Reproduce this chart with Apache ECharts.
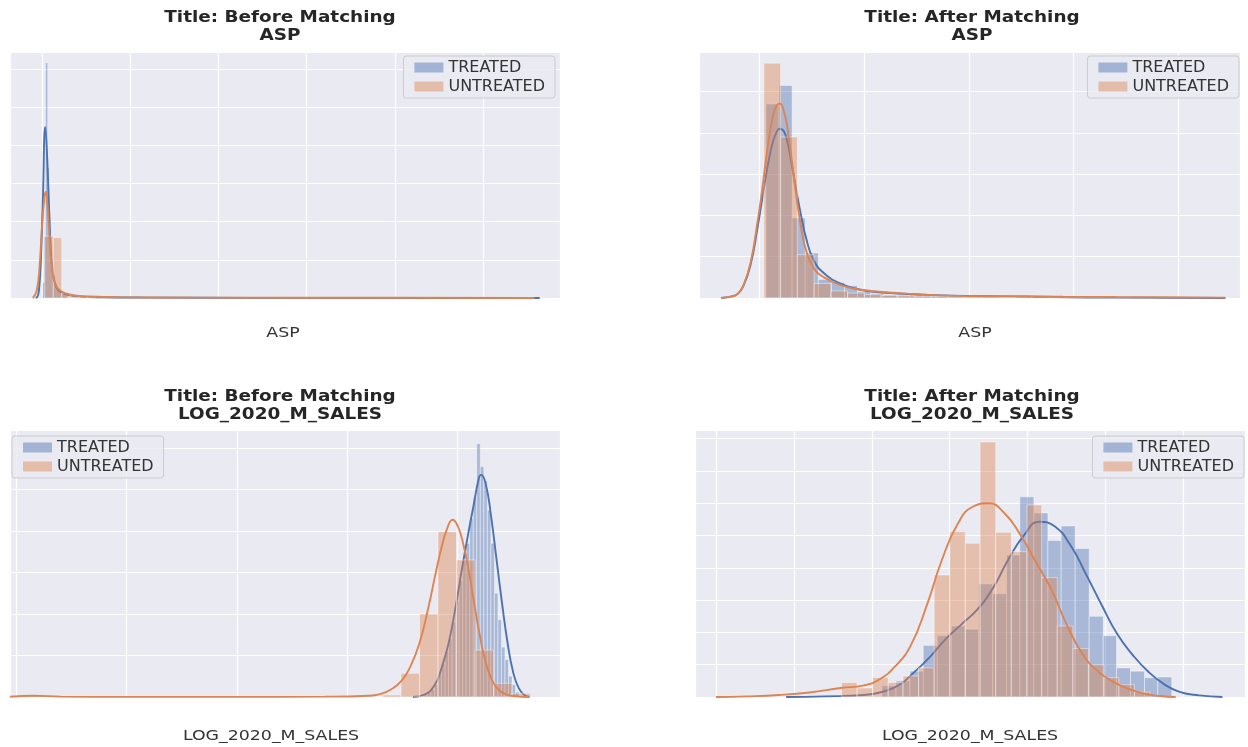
<!DOCTYPE html>
<html><head><meta charset="utf-8">
<script src="https://cdn.jsdelivr.net/npm/echarts@6/dist/echarts.min.js"></script>
<style>html,body{margin:0;padding:0;background:#fff}#c{width:1248px;height:747px}</style>
</head><body><div id="c"></div>
<script>
// ---------- DATA ----------
const seriesNames = ['TREATED', 'UNTREATED'];
const panelTitles = ['Title: Before Matching\nASP', 'Title: After Matching\nASP',
  'Title: Before Matching\nLOG_2020_M_SALES', 'Title: After Matching\nLOG_2020_M_SALES'];
const axisNames = ['ASP', 'ASP', 'LOG_2020_M_SALES', 'LOG_2020_M_SALES'];

// Panel 1: ASP before matching
const aspBeforeTreatedEdges = [0.6, 1.45, 2.3, 3.15, 4.0, 4.85, 5.7, 6.55, 7.4, 8.25, 9.1, 9.95, 10.8, 11.65, 12.5, 13.35, 14.2];
const aspBeforeTreatedHeights = [0.4, 1.6, 6.15, 3.4, 2.1, 1.2, 0.75, 0.5, 0.38, 0.3, 0.24, 0.2, 0.16, 0.13, 0.1, 0.08];
const aspBeforeUntreatedEdges = [1.7, 6.5, 11.3, 16.1, 20.9, 25.7, 30.5];
const aspBeforeUntreatedHeights = [1.62, 1.58, 0.12, 0.06, 0.04, 0.03];
const aspBeforeTreatedKde = [[-3.4,0],[-2.27,0.05],[-1.42,0.3],[-0.57,0.9],[0.57,2.5],[1.98,4.48],[3.12,3.6],[4.25,2.2],[5.1,1.3],[6.24,0.7],[7.37,0.4],[9.07,0.22],[11.34,0.14],[14.7,0.08],[21.5,0.04],[32.9,0.02],[61.2,0.01],[118,0.004],[282,0]];
const aspBeforeUntreatedKde = [[-5.1,0],[-2.83,0.2],[-1.13,0.9],[0,1.8],[1.42,2.6],[2.27,2.78],[3.12,2.5],[3.97,1.9],[5.1,1.1],[6.24,0.6],[7.94,0.33],[10.2,0.2],[13.6,0.12],[18.7,0.07],[27.2,0.04],[44.2,0.02],[89.6,0.01],[203,0.005],[279,0]];

// Panel 2: ASP after matching
const aspAfterTreatedEdges = [1.2, 3.7, 6.2, 8.7, 11.2, 13.7, 16.2, 18.7, 21.2, 23.7, 26.2, 28.7, 31.2, 33.7, 36.2, 38.7, 41.2, 43.7, 46.2];
const aspAfterTreatedHeights = [4.7, 5.15, 1.94, 1.09, 0.45, 0.38, 0.3, 0.16, 0.11, 0.08, 0.07, 0.08, 0.07, 0.05, 0.05, 0.04, 0.04, 0.03];
const aspAfterUntreatedEdges = [0.8, 4.0, 7.2, 10.4, 13.6, 16.8, 20.0, 23.2, 26.4, 29.6, 32.8, 36.0, 39.2, 42.4, 45.6, 48.8, 52.0, 55.2, 58.4, 61.6, 64.8, 68.0, 71.2, 74.4, 77.6, 80.8, 84.0, 87.2];
const aspAfterUntreatedHeights = [5.69, 3.9, 1.05, 0.35, 0.17, 0.12, 0.08, 0.06, 0.05, 0.04, 0.04, 0.03, 0.03, 0.03, 0.02, 0.03, 0.04, 0.03, 0.02, 0.02, 0.02, 0.02, 0.01, 0.01, 0.01, 0.01, 0.01];
const aspAfterTreatedKde = [[-7.4,0],[-5.3,0.04],[-4.2,0.1],[-3.2,0.27],[-1.75,0.8],[-0.35,1.75],[0.35,2.3],[1.05,2.85],[1.75,3.35],[2.46,3.75],[3.16,4.0],[3.86,4.1],[4.56,4.05],[5.26,3.8],[5.96,3.35],[6.66,2.85],[7.37,2.35],[8.07,1.9],[8.77,1.5],[10.2,0.95],[12.3,0.6],[15.8,0.33],[19.3,0.2],[22.8,0.14],[26.3,0.11],[29.8,0.09],[33.3,0.07],[40,0.05],[47,0.04],[55,0.02],[70,0.01],[89,0]];
const aspAfterUntreatedKde = [[-7.4,0],[-5.3,0.04],[-4.2,0.1],[-3.2,0.28],[-1.75,0.85],[-0.35,1.9],[0.35,2.5],[1.05,3.2],[1.75,3.85],[2.46,4.35],[3.16,4.65],[3.86,4.71],[4.56,4.55],[5.26,4.15],[5.96,3.5],[6.66,2.8],[7.37,2.15],[8.07,1.6],[8.77,1.2],[10.2,0.75],[12.3,0.5],[15.8,0.3],[19.3,0.2],[26.3,0.12],[33.3,0.07],[44,0.04],[51,0.045],[58,0.03],[68,0.025],[89,0.01]];

// Panel 3: LOG_2020_M_SALES before matching
const salesBeforeTreatedEdges = [13.5, 13.66, 13.82, 13.98, 14.14, 14.3, 14.46, 14.62, 14.78, 14.94, 15.1, 15.26, 15.42, 15.58, 15.74, 15.9, 16.06, 16.22, 16.38, 16.54, 16.7, 16.86, 17.02, 17.18, 17.34, 17.5, 17.66, 17.82];
const salesBeforeTreatedHeights = [0.05, 0.1, 0.18, 0.3, 0.55, 0.8, 1.1, 1.4, 1.8, 2.3, 2.8, 3.3, 3.7, 4.3, 4.8, 6.1, 5.55, 5.2, 4.5, 3.7, 2.5, 1.86, 1.2, 0.9, 0.5, 0.3, 0.12];
const salesBeforeUntreatedEdges = [-4.4, -3.56, 11.62, 12.46, 13.3, 14.14, 14.98, 15.82, 16.66, 17.5, 18.34];
const salesBeforeUntreatedHeights = [0.03, 0, 0.05, 0.57, 2.0, 3.98, 3.3, 1.13, 0.33, 0.09];
const salesBeforeTreatedKde = [[13.0,0],[13.5,0.05],[14.0,0.3],[14.3,0.7],[14.6,1.25],[14.9,2.05],[15.2,3.0],[15.5,3.9],[15.75,4.6],[16.0,5.28],[16.1,5.35],[16.3,5.15],[16.55,4.35],[16.8,3.3],[17.05,2.25],[17.3,1.3],[17.55,0.6],[17.8,0.22],[18.05,0.05],[18.3,0]];
const salesBeforeUntreatedKde = [[-5.3,0.005],[-4.2,0.03],[-3.0,0.01],[0,0.003],[5,0.003],[9,0.008],[11.0,0.03],[11.5,0.07],[12.0,0.18],[12.5,0.4],[12.9,0.75],[13.3,1.3],[13.7,2.15],[14.0,2.9],[14.3,3.6],[14.55,4.05],[14.8,4.27],[15.05,4.1],[15.3,3.65],[15.55,3.0],[15.8,2.2],[16.05,1.45],[16.3,0.85],[16.6,0.4],[16.9,0.17],[17.3,0.05],[17.8,0.01],[18.2,0]];

// Panel 4: LOG_2020_M_SALES after matching
const salesAfterTreatedEdges = [12.13, 12.31, 12.49, 12.66, 12.84, 13.02, 13.2, 13.37, 13.55, 13.73, 13.9, 14.08, 14.26, 14.43, 14.61, 14.79, 14.97, 15.14, 15.32, 15.5, 15.67, 15.85];
const salesAfterTreatedHeights = [0.35, 0.5, 0.8, 1.6, 1.9, 2.2, 2.1, 3.5, 3.2, 4.4, 6.2, 5.7, 4.85, 5.3, 4.6, 2.5, 1.9, 0.9, 0.8, 0.6, 0.62];
const salesAfterUntreatedEdges = [11.61, 11.81, 12.01, 12.21, 12.4, 12.6, 12.8, 13.0, 13.2, 13.39, 13.59, 13.79, 13.99, 14.18, 14.38, 14.58, 14.78, 14.98, 15.17, 15.37, 15.57];
const salesAfterUntreatedHeights = [0.45, 0.28, 0.6, 0.45, 0.65, 0.9, 3.78, 5.12, 4.76, 7.9, 5.1, 4.5, 5.95, 3.7, 2.2, 1.5, 1.0, 0.6, 0.38, 0.15];
const salesAfterTreatedKde = [[10.9,0],[11.4,0.02],[11.9,0.06],[12.15,0.17],[12.35,0.37],[12.55,0.78],[12.75,1.25],[12.95,1.8],[13.15,2.25],[13.35,2.7],[13.55,3.35],[13.75,4.25],[13.95,5.0],[14.15,5.43],[14.35,5.28],[14.55,4.7],[14.75,3.8],[14.95,2.85],[15.15,1.95],[15.35,1.3],[15.55,0.78],[15.75,0.4],[15.95,0.16],[16.2,0.05],[16.5,0]];
const salesAfterUntreatedKde = [[10.0,0],[10.4,0.02],[10.8,0.06],[11.2,0.14],[11.6,0.28],[11.9,0.36],[12.1,0.55],[12.3,0.95],[12.5,1.6],[12.7,2.8],[12.9,4.25],[13.1,5.35],[13.3,5.9],[13.5,6.0],[13.7,5.7],[13.9,5.05],[14.1,4.2],[14.3,3.35],[14.5,2.25],[14.7,1.35],[14.9,0.8],[15.1,0.47],[15.3,0.25],[15.5,0.1],[15.7,0.03],[15.9,0]];

// axis extents (value units)
const xExtents = [[-18, 293.5], [-11.6, 91.8], [-5.3, 19.68], [9.73, 16.79]];
const yMax = [6.44, 5.96, 6.43, 8.27];

// ---------- CHART ----------
const BLUE = '#4C72B0', ORANGE = '#DD8452';
const FONT = 'DejaVu Sans';
const grids = [
  {left: 10, top: 52, width: 550, height: 246},
  {left: 699, top: 52, width: 541, height: 246},
  {left: 10, top: 430, width: 550, height: 267},
  {left: 695, top: 430, width: 550, height: 267}
];
const xSplit = [5, 5, 5, 7];
const ySplit = [6, 5, 6, 8];

function hist(name, color, idx, edges, heights, edgeW, z) {
  return {
    type: 'custom', name: name, xAxisIndex: idx, yAxisIndex: idx, z: z,
    itemStyle: {color: color}, encode: {x: [0, 1], y: 2}, silent: true, clip: true,
    data: heights.map((h, i) => [edges[i], edges[i + 1], h]),
    renderItem: function (params, api) {
      const a = api.coord([api.value(0), api.value(2)]);
      const b = api.coord([api.value(1), 0]);
      return {type: 'rect', shape: {x: a[0], y: a[1], width: b[0] - a[0], height: b[1] - a[1]},
        style: {fill: color, stroke: edgeW ? '#ffffff' : null, lineWidth: edgeW, opacity: 0.42}};
    }
  };
}
function kde(name, color, idx, pts, z) {
  return {type: 'line', name: name, xAxisIndex: idx, yAxisIndex: idx, z: z, data: pts,
    showSymbol: false, symbol: 'none', smooth: 0.5, silent: true,
    lineStyle: {color: color, width: 1.9}, itemStyle: {color: color}};
}

const panels = [
  [aspBeforeTreatedEdges, aspBeforeTreatedHeights, aspBeforeUntreatedEdges, aspBeforeUntreatedHeights, aspBeforeTreatedKde, aspBeforeUntreatedKde, 0],
  [aspAfterTreatedEdges, aspAfterTreatedHeights, aspAfterUntreatedEdges, aspAfterUntreatedHeights, aspAfterTreatedKde, aspAfterUntreatedKde, 1],
  [salesBeforeTreatedEdges, salesBeforeTreatedHeights, salesBeforeUntreatedEdges, salesBeforeUntreatedHeights, salesBeforeTreatedKde, salesBeforeUntreatedKde, 1],
  [salesAfterTreatedEdges, salesAfterTreatedHeights, salesAfterUntreatedEdges, salesAfterUntreatedHeights, salesAfterTreatedKde, salesAfterUntreatedKde, 1]
];
const series = [];
panels.forEach((p, i) => {
  series.push(hist(seriesNames[0], BLUE, i, p[0], p[1], p[6], 2));
  series.push(kde(seriesNames[0] + ' KDE', BLUE, i, p[4], 3));
  series.push(hist(seriesNames[1], ORANGE, i, p[2], p[3], 1, 4));
  series.push(kde(seriesNames[1] + ' KDE', ORANGE, i, p[5], 5));
});

const titlePos = [[280, 9], [972, 9], [280, 388], [972, 388]];
const namePos = [[283, 326], [975, 326], [271, 729], [970, 729]];
const legendPos = [
  {right: 693, top: 56}, {right: 9, top: 56}, {left: 12, top: 436}, {right: 4, top: 436}
];

const graphics = [];
panelTitles.forEach((t, i) => graphics.push({
  type: 'text', x: titlePos[i][0], y: titlePos[i][1], scaleX: 1.15, silent: true,
  style: {text: t, align: 'center', verticalAlign: 'top', fontFamily: FONT, fontSize: 16,
    fontWeight: 'bold', lineHeight: 18, fill: '#262626'}
}));
axisNames.forEach((t, i) => graphics.push({
  type: 'text', x: namePos[i][0], y: namePos[i][1], scaleX: 1.24, silent: true,
  style: {text: t, align: 'center', verticalAlign: 'top', fontFamily: FONT, fontSize: 14, fill: '#333333'}
}));

const option = {
  animation: false,
  backgroundColor: '#ffffff',
  textStyle: {fontFamily: FONT},
  graphic: graphics,
  legend: legendPos.map((pos, i) => Object.assign({
    orient: 'vertical', selectedMode: false, itemWidth: 29, itemHeight: 10, itemGap: 2,
    padding: [3, 10, 3, 11], backgroundColor: 'rgba(234,234,242,0.8)', borderColor: '#cccccc',
    borderWidth: 1, borderRadius: 3,
    textStyle: {fontFamily: FONT, fontSize: 16, color: '#333333', lineHeight: 17},
    data: [
      {name: seriesNames[0], icon: 'rect', itemStyle: {color: 'rgba(76,114,176,0.45)', borderWidth: 0}},
      {name: seriesNames[1], icon: 'rect', itemStyle: {color: 'rgba(221,132,82,0.45)', borderWidth: 0}}
    ]
  }, pos)),
  grid: grids.map(g => Object.assign({show: true, backgroundColor: '#EAEAF2', borderWidth: 0, containLabel: false}, g)),
  xAxis: grids.map((g, i) => ({
    type: 'value', gridIndex: i, min: xExtents[i][0], max: xExtents[i][1], splitNumber: xSplit[i],
    axisLine: {show: false}, axisTick: {show: false}, axisLabel: {show: false},
    splitLine: {show: true, lineStyle: {color: '#ffffff', width: 1.2}}
  })),
  yAxis: grids.map((g, i) => ({
    type: 'value', gridIndex: i, min: 0, max: yMax[i], splitNumber: ySplit[i],
    axisLine: {show: false}, axisTick: {show: false}, axisLabel: {show: false},
    splitLine: {show: true, lineStyle: {color: '#ffffff', width: 1.2}}
  })),
  series: series
};
const chart = echarts.init(document.getElementById('c'));
chart.setOption(option);
</script></body></html>
